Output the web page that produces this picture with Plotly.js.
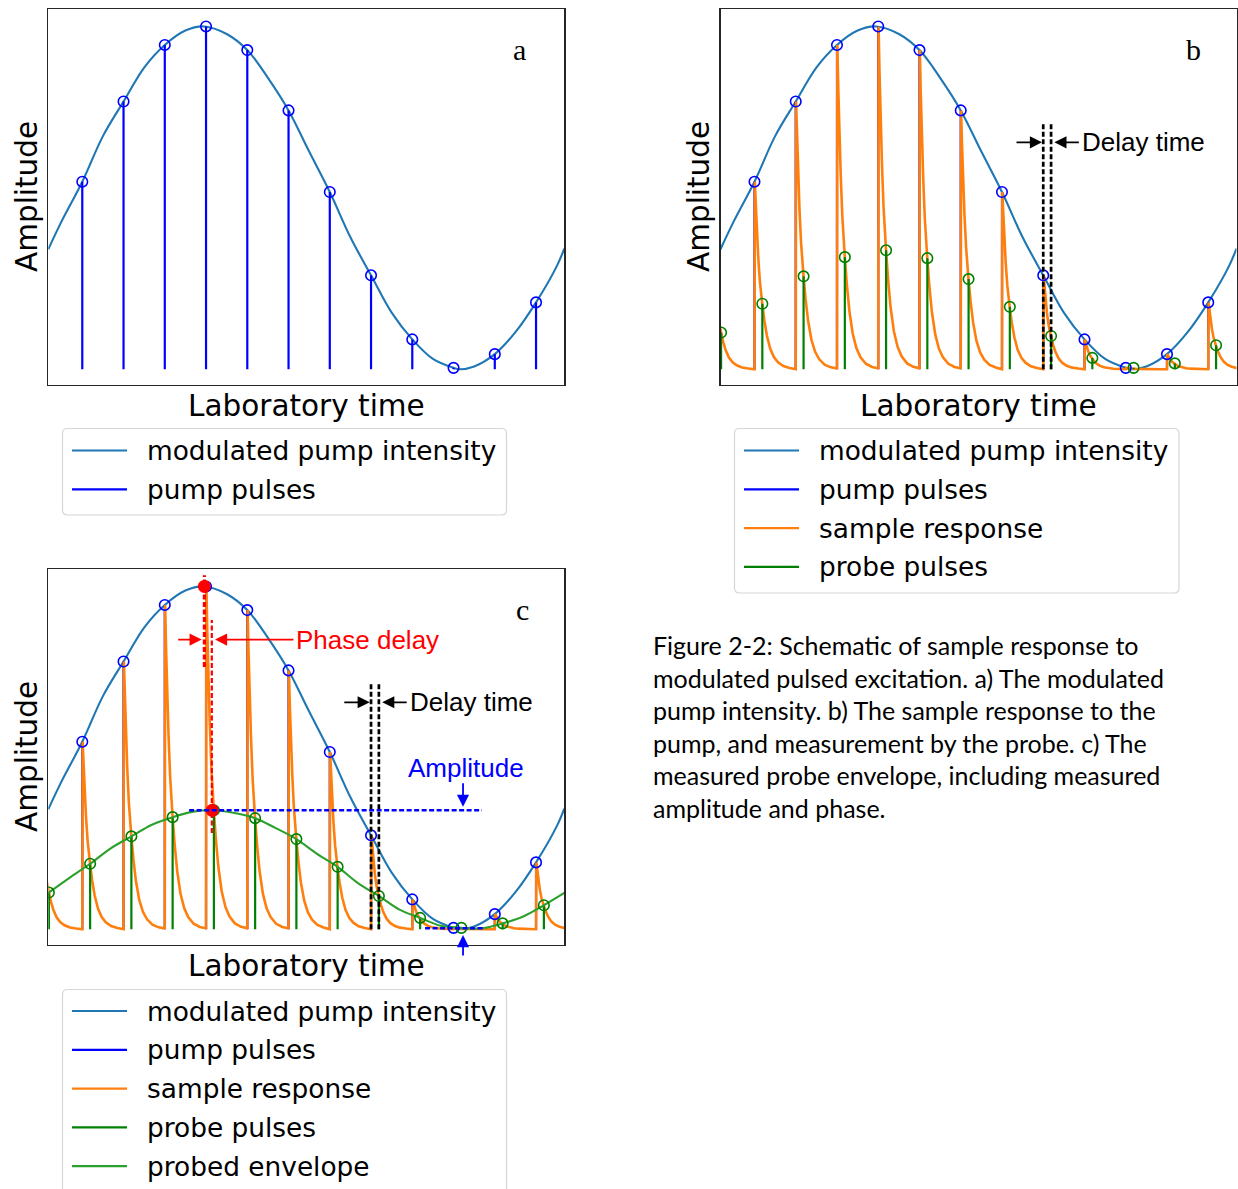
<!DOCTYPE html>
<html>
<head>
<meta charset="utf-8">
<script src="https://cdn.plot.ly/plotly-3.0.1.min.js"></script>
<style>
  html, body { margin: 0; padding: 0; background: #fff; }
  #fig { width: 1238px; height: 1189px; }
</style>
</head>
<body>
<div id="fig"></div>
<script>
// ---- data (time in units of the pump pulse period, amplitude normalised) ----
// pump pulses: times and peak amplitudes (the first one lies just before the window)
const pulseT    = [-1, 0, 1, 2, 3, 4, 5, 6, 7, 8, 9, 10, 11];
const pumpPeaks = [0.31, 0.547, 0.781, 0.946, 1.000, 0.931, 0.755, 0.517, 0.274, 0.087, 0.004, 0.044, 0.195];

// probe pulses: times and the sampled response
const probeT    = [-0.81, 0.19, 1.19, 2.19, 3.19, 4.19, 5.19, 6.19, 7.19, 8.19, 9.19, 10.19, 11.19];
const probeVals = [0.107, 0.191, 0.271, 0.327, 0.347, 0.324, 0.263, 0.182, 0.097, 0.033, 0.004, 0.017, 0.070];

// modulated pump intensity
const pumpCurveT = [-0.824, -0.5, 0, 0.5, 1, 1.5, 2, 2.5, 2.95, 3.5, 4, 4.5, 5, 5.5, 6, 6.5, 7, 7.5, 8, 8.5, 9, 9.15, 9.5, 10, 10.5, 11, 11.5, 11.685];
const pumpCurveA = [0.350, 0.432, 0.547, 0.680, 0.781, 0.880, 0.946, 0.988, 1.000, 0.978, 0.931, 0.850, 0.755, 0.635, 0.517, 0.385, 0.274, 0.165, 0.087, 0.030, 0.004, 0.000, 0.008, 0.044, 0.108, 0.195, 0.300, 0.352];

// probed envelope
const envT = [-0.824, -0.31, 0.19, 0.69, 1.19, 1.69, 2.19, 2.69, 3.15, 3.69, 4.19, 4.69, 5.19, 5.69, 6.19, 6.69, 7.19, 7.69, 8.19, 8.69, 9.19, 9.34, 9.69, 10.19, 10.69, 11.19, 11.685];
const envA = [0.106, 0.150, 0.191, 0.236, 0.271, 0.305, 0.327, 0.343, 0.347, 0.339, 0.324, 0.295, 0.263, 0.220, 0.182, 0.134, 0.097, 0.057, 0.033, 0.010, 0.004, 0.002, 0.003, 0.017, 0.037, 0.070, 0.106];

// sample response after a single pump pulse: time since the pulse, fraction of the pulse peak
const decayT    = [0, 0.008, 0.03, 0.06, 0.09, 0.13, 0.16, 0.19, 0.24, 0.30, 0.38, 0.47, 0.57, 0.70, 0.85, 0.995];
const decayFrac = [0, 1.000, 0.87, 0.72, 0.60, 0.47, 0.40, 0.345, 0.26, 0.18, 0.11, 0.065, 0.037, 0.017, 0.007, 0.003];

// peak of the pump modulation and peak of the probed envelope
const peakMarkT = [2.96, 3.15];
const peakMarkA = [1.000, 0.347];
const envMinA = 0.003;

// visible window
const tRange = [-0.824, 11.685];
const aRange = [-0.046, 1.05];

// ---- colours ----
const C_CURVE = '#1f77b4', C_PUMP = '#0000ff', C_RESP = '#ff7f0e', C_PROBE = '#008000', C_ENV = '#2ca02c';

// ---- page geometry helpers ----
const W = 1238, H = 1189;
const PX = v => v / W;
const PY = v => 1 - v / H;

// ---- derived series ----
function stems(ts, vs) {
  const x = [], y = [];
  ts.forEach((t, i) => { x.push(t, t, null); y.push(0, vs[i], null); });
  return { x, y };
}
const pumpStems = stems(pulseT, pumpPeaks);
const probeStems = stems(probeT, probeVals);

const respT = [], respA = [];
pulseT.forEach((t0, k) => {
  const tNext = k + 1 < pulseT.length ? pulseT[k + 1] : Infinity;
  decayT.forEach((dt, i) => {
    if (t0 + dt < tNext) { respT.push(t0 + dt); respA.push(pumpPeaks[k] * decayFrac[i]); }
  });
});

// ---- traces for one panel ----
function panel(xa, ya, level) {
  const tr = [];
  tr.push({ x: pumpCurveT, y: pumpCurveA, xaxis: xa, yaxis: ya, mode: 'lines',
            line: { color: C_CURVE, width: 2.1, shape: 'spline', smoothing: 1 } });
  tr.push({ x: pumpStems.x, y: pumpStems.y, xaxis: xa, yaxis: ya, mode: 'lines',
            line: { color: C_PUMP, width: 2.2 } });
  if (level >= 2) {
    tr.push({ x: respT, y: respA, xaxis: xa, yaxis: ya, mode: 'lines',
              line: { color: C_RESP, width: 2.6 } });
    tr.push({ x: probeStems.x, y: probeStems.y, xaxis: xa, yaxis: ya, mode: 'lines',
              line: { color: C_PROBE, width: 2.2 } });
  }
  if (level >= 3) {
    tr.push({ x: envT, y: envA, xaxis: xa, yaxis: ya, mode: 'lines',
              line: { color: C_ENV, width: 2.1, shape: 'spline', smoothing: 1 } });
  }
  tr.push({ x: pulseT, y: pumpPeaks, xaxis: xa, yaxis: ya, mode: 'markers',
            marker: { symbol: 'circle-open', size: 10.5, color: C_PUMP, line: { width: 1.6, color: C_PUMP } } });
  if (level >= 2) {
    tr.push({ x: probeT, y: probeVals, xaxis: xa, yaxis: ya, mode: 'markers',
              marker: { symbol: 'circle-open', size: 10.5, color: C_PROBE, line: { width: 1.6, color: C_PROBE } } });
  }
  if (level >= 3) {
    tr.push({ x: peakMarkT, y: peakMarkA, xaxis: xa, yaxis: ya, mode: 'markers',
              marker: { symbol: 'circle', size: 13, color: '#ff0000' } });
  }
  return tr;
}

const data = [...panel('x', 'y', 1), ...panel('x2', 'y2', 2), ...panel('x3', 'y3', 3)];

// ---- axes ----
const axStyle = { showline: true, mirror: true, linecolor: '#262626', linewidth: 1.3,
                  showticklabels: false, ticks: '', showgrid: false, zeroline: false, fixedrange: true };
const domA_x = [PX(48.3), PX(564.3)], domB_x = [PX(720.5), PX(1236.5)];
const domTop_y = [PY(385), PY(9.3)], domBot_y = [PY(945), PY(569.3)];

const shapes = [];
const annotations = [];

function arrow(xr, yr, x, y, ax, ay, color) {
  annotations.push({ xref: xr, yref: yr, x, y, ax, ay, text: '', showarrow: true,
                     arrowhead: 2, arrowsize: 1.35, arrowwidth: 1.8, arrowcolor: color,
                     standoff: 0, startstandoff: 0 });
}

// delay-time marker (pump pulse 7 and its probe)
const DELAY_IDX = 8;
function delayMarker(xr, yr) {
  [pulseT[DELAY_IDX], probeT[DELAY_IDX]].forEach(t => {
    shapes.push({ type: 'line', xref: xr, yref: yr, x0: t, x1: t, y0: 0, y1: 0.72,
                  line: { color: '#000', width: 2.7, dash: '5px,2.5px' } });
  });
  arrow(xr, yr, pulseT[DELAY_IDX] - 0.03, 0.662, -27, 0, '#000');
  arrow(xr, yr, probeT[DELAY_IDX] + 0.08, 0.662, 26, 0, '#000');
  annotations.push({ xref: xr, yref: yr, x: 7.89, y: 0.662, xanchor: 'left', yanchor: 'middle',
                     text: 'Delay time', showarrow: false,
                     font: { family: 'Liberation Sans', size: 26, color: '#000' } });
}
delayMarker('x2', 'y2');
delayMarker('x3', 'y3');

// phase delay (panel c)
shapes.push({ type: 'line', xref: 'x3', yref: 'y3', x0: peakMarkT[0], x1: peakMarkT[0], y0: 0.765, y1: 1.033,
              line: { color: '#ff0000', width: 3.2, dash: '5px,2.5px' } });
shapes.push({ type: 'line', xref: 'x3', yref: 'y3', x0: peakMarkT[1] - 0.01, x1: peakMarkT[1] - 0.01, y0: 0.281, y1: 0.902,
              line: { color: '#ff0000', width: 2.2, dash: '5px,2.5px' } });
arrow('x3', 'y3', 2.895, 0.845, -25, 0, '#ff0000');
arrow('x3', 'y3', 3.217, 0.845, 80, 0, '#ff0000');
annotations.push({ xref: 'x3', yref: 'y3', x: 5.14, y: 0.845, xanchor: 'left', yanchor: 'middle',
                   text: 'Phase delay', showarrow: false,
                   font: { family: 'Liberation Sans', size: 26, color: '#ff0000' } });

// amplitude (panel c)
shapes.push({ type: 'line', xref: 'x3', yref: 'y3', x0: 2.59, x1: 9.69, y0: peakMarkA[1], y1: peakMarkA[1],
              line: { color: '#0000ff', width: 2.6, dash: '5px,2.5px' } });
shapes.push({ type: 'line', xref: 'x3', yref: 'y3', x0: 8.31, x1: 9.71, y0: envMinA, y1: envMinA,
              line: { color: '#0000ff', width: 2.6, dash: '5px,2.5px' } });
arrow('x3', 'y3', 9.23, 0.357, 0, -25, '#0000ff');
arrow('x3', 'y3', 9.23, -0.017, 0, 22, '#0000ff');
annotations.push({ xref: 'x3', yref: 'y3', x: 9.30, y: 0.47, xanchor: 'center', yanchor: 'middle',
                   text: 'Amplitude', showarrow: false,
                   font: { family: 'Liberation Sans', size: 26, color: '#0000ff' } });

// panel letters
[['x', 'y', 'a', 10.60], ['x2', 'y2', 'b', 10.65], ['x3', 'y3', 'c', 10.67]].forEach(([xr, yr, s, xv]) => {
  annotations.push({ xref: xr, yref: yr, x: xv, y: 0.934, text: s, showarrow: false,
                     xanchor: 'center', yanchor: 'middle',
                     font: { family: 'Liberation Serif', size: 30, color: '#000' } });
});

// axis labels
function axisLabels(cx, frameMidY, labY, ampX) {
  annotations.push({ xref: 'paper', yref: 'paper', x: PX(cx), y: PY(labY), text: 'Laboratory time',
                     showarrow: false, xanchor: 'center', yanchor: 'middle',
                     font: { family: 'DejaVu Sans', size: 29.5, color: '#000' } });
  annotations.push({ xref: 'paper', yref: 'paper', x: PX(ampX), y: PY(frameMidY), text: 'Amplitude',
                     showarrow: false, xanchor: 'center', yanchor: 'middle', textangle: -90,
                     font: { family: 'DejaVu Sans', size: 29.5, color: '#000' } });
}
axisLabels(306.8, 197, 405.5, 27);
axisLabels(979, 197, 405.5, 699);
axisLabels(306.8, 757, 965.5, 27);

// legends
function roundedBox(x0, y0, x1, y1, r) {
  return `M${PX(x0 + r)},${PY(y0)} L${PX(x1 - r)},${PY(y0)} Q${PX(x1)},${PY(y0)} ${PX(x1)},${PY(y0 + r)} ` +
         `L${PX(x1)},${PY(y1 - r)} Q${PX(x1)},${PY(y1)} ${PX(x1 - r)},${PY(y1)} L${PX(x0 + r)},${PY(y1)} ` +
         `Q${PX(x0)},${PY(y1)} ${PX(x0)},${PY(y1 - r)} L${PX(x0)},${PY(y0 + r)} Q${PX(x0)},${PY(y0)} ${PX(x0 + r)},${PY(y0)} Z`;
}
const legendItems = [
  ['modulated pump intensity', C_CURVE],
  ['pump pulses', C_PUMP],
  ['sample response', C_RESP],
  ['probe pulses', C_PROBE],
  ['probed envelope', C_ENV]
];
function legend(x0, y0, x1, y1, n, firstRow) {
  shapes.push({ type: 'path', xref: 'paper', yref: 'paper', path: roundedBox(x0, y0, x1, y1, 5),
                fillcolor: 'rgba(255,255,255,0.9)', line: { color: '#d6d6d6', width: 1.2 } });
  for (let i = 0; i < n; i++) {
    const ry = firstRow + i * 38.8;
    shapes.push({ type: 'line', xref: 'paper', yref: 'paper', x0: PX(x0 + 9.5), x1: PX(x0 + 64.5), y0: PY(ry), y1: PY(ry),
                  line: { color: legendItems[i][1], width: 2.2 } });
    annotations.push({ xref: 'paper', yref: 'paper', x: PX(x0 + 82), y: PY(ry), text: legendItems[i][0],
                       showarrow: false, xanchor: 'left', yanchor: 'middle',
                       font: { family: 'DejaVu Sans', size: 26.4, color: '#000' } });
  }
}
legend(62.5, 428.5, 506.5, 515, 2, 450.5);
legend(734.5, 428.5, 1179, 593, 4, 450.5);
legend(62.5, 989.5, 506.5, 1200, 5, 1011);

// caption
const captionLines = [
  'Figure 2-2: Schematic of sample response to',
  'modulated pulsed excitation. a) The modulated',
  'pump intensity. b) The sample response to the',
  'pump, and measurement by the probe. c) The',
  'measured probe envelope, including measured',
  'amplitude and phase.'
];
captionLines.forEach((s, i) => {
  annotations.push({ xref: 'paper', yref: 'paper', x: PX(651), y: PY(645 + i * 32.6), text: s,
                     showarrow: false, xanchor: 'left', yanchor: 'middle',
                     font: { family: 'Lato', size: 25, color: '#000' } });
});

const layout = {
  width: W, height: H,
  margin: { l: 0, r: 0, t: 0, b: 0 },
  paper_bgcolor: '#fff', plot_bgcolor: '#fff',
  showlegend: false,
  font: { family: 'DejaVu Sans', color: '#000' },
  xaxis:  Object.assign({ domain: domA_x, range: tRange, anchor: 'y'  }, axStyle),
  yaxis:  Object.assign({ domain: domTop_y, range: aRange, anchor: 'x'  }, axStyle),
  xaxis2: Object.assign({ domain: domB_x, range: tRange, anchor: 'y2' }, axStyle),
  yaxis2: Object.assign({ domain: domTop_y, range: aRange, anchor: 'x2' }, axStyle),
  xaxis3: Object.assign({ domain: domA_x, range: tRange, anchor: 'y3' }, axStyle),
  yaxis3: Object.assign({ domain: domBot_y, range: aRange, anchor: 'x3' }, axStyle),
  shapes, annotations
};

Plotly.newPlot('fig', data, layout, { staticPlot: true, displayModeBar: false });
</script>
</body>
</html>
